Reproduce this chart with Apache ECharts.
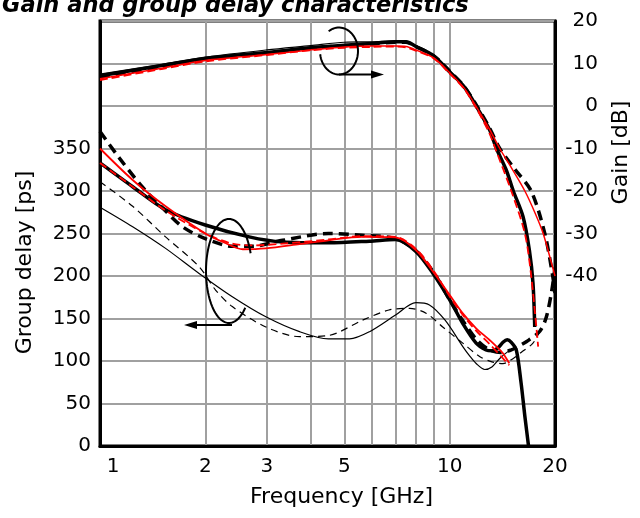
<!DOCTYPE html>
<html><head><meta charset="utf-8">
<script src="https://cdn.jsdelivr.net/npm/echarts@6/dist/echarts.min.js"></script>
<style>html,body{margin:0;padding:0;background:#fff}#c{width:640px;height:518px}</style>
</head><body><div id="c"></div>
<script>
const FONT = 'DejaVu Sans';
// axis ticks / labels
const xTickLabels = [1, 2, 3, 5, 10, 20];
const xGridValues = [1, 2, 3, 4, 5, 6, 7, 8, 9, 10, 20];
const gdLabelMax = 350;      // highest labelled group-delay tick
const gainLabelMin = -40;    // lowest labelled gain tick

// ---- Gain curves (dB) ----
const gainThickF = [1, 1.5, 2, 3, 4, 5, 6, 7, 7.5, 8, 9, 10, 11, 12, 13, 13.6, 14.5, 15.2, 16.2, 16.9, 17.3, 17.5];
const gainThickV = [7.1, 9.5, 11.2, 12.6, 13.7, 14.3, 14.7, 15.1, 15.1, 14.0, 11.8, 8.0, 4.5, -0.5, -5.6, -10, -15, -20, -26, -34, -41.7, -52];
const gainThickDashF = [1, 1.5, 2, 3, 4, 5, 6, 7, 7.5, 8, 9, 10, 11, 12, 13, 13.9, 15.4, 17.1, 18.7, 19.7, 20];
const gainThickDashV = [6.8, 9.2, 11.0, 12.5, 13.6, 14.2, 14.6, 15.0, 15.0, 14.0, 11.8, 8.2, 4.6, -0.2, -5.2, -10, -15, -20, -30, -40, -44];
const gainThinF = [1, 1.5, 2, 3, 4, 5, 6, 7, 7.5, 8, 9, 10, 11, 12, 13, 13.6, 14.5, 15.2];
const gainThinV = [7.5, 9.8, 11.5, 13.2, 14.2, 15.0, 15.1, 15.3, 15.2, 14.2, 12.0, 8.3, 4.6, -0.4, -5.5, -9.8, -15, -20];
const gainRedF = [1, 1.5, 2, 3, 4, 5, 6, 7, 7.5, 8, 9, 10, 11, 12, 13, 13.9, 15.0, 16.4, 17.5, 18.5, 19.7, 20];
const gainRedV = [6.4, 8.9, 10.7, 12.1, 13.2, 13.9, 14.1, 14.1, 14.0, 13.2, 11.3, 7.8, 4.2, -0.6, -5.5, -10, -14.5, -20, -25, -30, -38, -40];
const gainRedDashF = [1, 1.5, 2, 3, 4, 5, 6, 7, 7.5, 8, 9, 10, 11, 12, 13, 13.5, 15.0, 16.4, 17.1, 17.9];
const gainRedDashV = [6.1, 8.7, 10.5, 12.0, 13.1, 13.7, 13.9, 14.0, 13.8, 13.0, 11.2, 7.6, 4.0, -1, -6.5, -10, -20, -30, -40, -56.6];

// ---- Group delay curves (ps) ----
const gdThickF = [1, 1.24, 1.54, 2.0, 2.67, 3.33, 4.5, 5.9, 7.0, 8.0, 8.96, 10, 10.9, 11.9, 12.7, 13.2, 13.7, 14.2, 14.6, 15.0, 15.5, 16.0, 16.4, 16.8, 17.0];
const gdThickV = [333, 305, 278, 260, 246, 240, 239, 241, 243, 229, 203, 172, 144, 121, 113, 112, 115, 122, 125, 122, 113, 74, 35, 0, -20];
const gdThickDashF = [1, 1.13, 1.32, 1.51, 1.72, 2.0, 2.39, 2.73, 3.33, 4.5, 5.6, 7.0, 8.0, 9.0, 10, 11, 12, 13, 14, 15, 15.5, 16.6, 18.1, 18.9, 19.6, 20];
const gdThickDashV = [370, 340, 305, 280, 258, 244, 235, 235, 242, 250, 248, 244, 230, 204, 172, 145, 124, 113, 110, 113, 116, 123, 135, 152, 184, 210];
const gdRedF = [1, 1.24, 1.54, 2.0, 2.29, 2.56, 2.98, 3.72, 4.5, 5.6, 7.0, 8.0, 8.96, 10, 10.9, 11.9, 13.0, 14.2, 14.8];
const gdRedV = [350, 313, 282, 250, 238.5, 231.5, 232.5, 237.5, 242, 246, 245.5, 230.6, 205, 177.6, 156, 138.5, 124.7, 109, 97.3];
const gdRedDashF = [1, 1.24, 1.54, 2.0, 2.39, 2.73, 3.33, 4.5, 5.6, 7.0, 8.0, 9.0, 10, 11, 12, 13, 14.2, 14.8];
const gdRedDashV = [333, 305, 277, 250, 238, 236, 238, 243, 247, 246, 232, 206, 176, 152, 134, 120, 103, 95];
const gdThinF = [1, 1.24, 1.54, 1.92, 2.39, 2.98, 3.72, 4.5, 5.17, 5.9, 7.0, 8.0, 8.75, 9.7, 10.9, 11.4, 11.9, 12.6, 13.2, 13.9, 14.8, 15.5];
const gdThinV = [281, 258, 232.5, 203, 175.6, 152, 134.5, 126, 126, 134.5, 154, 168.6, 166, 148, 117, 106, 97, 90, 93, 103, 112, 115];
const gdThinDashF = [1, 1.24, 1.54, 1.92, 2.14, 2.39, 2.98, 3.72, 4.5, 5.63, 6.7, 7.68, 8.58, 9.55, 10.9, 12.2, 13.2, 14.2, 15.2, 16.0, 17.3, 18.1];
const gdThinDashV = [311, 282, 246, 211, 183.5, 164, 140, 128.6, 130, 148, 160, 162, 156, 140, 121, 105, 99, 97, 103, 110, 121, 135];

function pairs(f, v) { return f.map((x, i) => [x, v[i]]); }
function line(name, f, v, yIdx, color, width, dash, z) {
  return {
    name, type: 'line', yAxisIndex: yIdx, data: pairs(f, v),
    showSymbol: false, symbol: 'none', smooth: 0.3, clip: true, silent: true,
    animation: false, z: z,
    lineStyle: { color, width, type: dash || 'solid', cap: 'butt', join: 'round' }
  };
}

const chart = echarts.init(document.getElementById('c'), null, { renderer: 'canvas' });

const labelStyle = { fontFamily: FONT, fontSize: 20, color: '#000' };
const nameStyle = { fontFamily: FONT, fontSize: 22, color: '#000' };

const option = {
  backgroundColor: '#fff',
  animation: false,
  title: {
    text: 'Gain and group delay characteristics', left: 2, top: -5, padding: 0,
    textStyle: { fontFamily: FONT, fontStyle: 'italic', fontWeight: 'bold', fontSize: 22.5, color: '#000' }
  },
  grid: { left: 100, right: 85, top: 21, bottom: 72, containLabel: false, outerBoundsMode: 'none',
          show: true, borderColor: '#000', borderWidth: 3, backgroundColor: 'transparent' },
  xAxis: {
    type: 'log', logBase: 10, min: 1, max: 20,
    axisLine: { show: true, onZero: false, lineStyle: { color: '#000', width: 3 } },
    axisTick: { show: false, customValues: xGridValues },
    axisLabel: Object.assign({
      customValues: xTickLabels, margin: 11, showMinLabel: true, showMaxLabel: true, hideOverlap: false,
      formatter: v => (v === 1 ? '{s|1}' : String(v)),
      rich: { s: Object.assign({ padding: [0, 0, 0, 26] }, labelStyle) }
    }, labelStyle),
    splitLine: { show: true, lineStyle: { color: '#a0a0a0', width: 2 } },
    minorTick: { show: false }, minorSplitLine: { show: false },
    name: 'Frequency [GHz]', nameLocation: 'middle', nameGap: 40,
    nameTextStyle: Object.assign({ padding: [0, 0, 0, 28] }, nameStyle)
  },
  yAxis: [
    {
      type: 'value', position: 'left', min: 0, max: 500, interval: 50,
      axisLine: { show: true, onZero: false, lineStyle: { color: '#000', width: 3 } },
      axisTick: { show: false },
      axisLabel: Object.assign({ margin: 9, showMinLabel: true, showMaxLabel: true,
        formatter: v => (v <= gdLabelMax ? String(v) : '') }, labelStyle),
      splitLine: { show: true, lineStyle: { color: '#a0a0a0', width: 2 } },
      name: 'Group delay [ps]', nameLocation: 'middle', nameRotate: 90, nameGap: 64,
      nameTextStyle: Object.assign({ padding: [0, 58, 0, 0] }, nameStyle)
    },
    {
      type: 'value', position: 'right', min: -80, max: 20, interval: 10,
      axisLine: { show: true, onZero: false, lineStyle: { color: '#000', width: 3 } },
      axisTick: { show: false },
      axisLabel: Object.assign({ margin: 43, align: 'right', showMinLabel: true, showMaxLabel: true,
        formatter: v => (v >= gainLabelMin ? String(v) : '') }, labelStyle),
      splitLine: { show: false },
      name: 'Gain [dB]', nameLocation: 'middle', nameRotate: 90, nameGap: 55,
      nameTextStyle: Object.assign({ padding: [0, 0, 0, 162] }, nameStyle)
    }
  ],
  series: [
    line('gd thin', gdThinF, gdThinV, 0, '#000', 1.2, null, 2),
    line('gd thin dash', gdThinDashF, gdThinDashV, 0, '#000', 1.2, [7, 5], 2),
    line('gd thick', gdThickF, gdThickV, 0, '#000', 3.5, null, 3),
    line('gd thick dash', gdThickDashF, gdThickDashV, 0, '#000', 3.5, [10, 6], 3),
    line('gd red', gdRedF, gdRedV, 0, '#ff0000', 1.8, null, 4),
    line('gd red dash', gdRedDashF, gdRedDashV, 0, '#ff0000', 1.8, [8, 4], 4),
    line('gain thick', gainThickF, gainThickV, 1, '#000', 3.5, null, 3),
    line('gain thick dash', gainThickDashF, gainThickDashV, 1, '#000', 3.5, [10, 6], 3),
    line('gain thin', gainThinF, gainThinV, 1, '#000', 1.2, null, 3),
    line('gain red', gainRedF, gainRedV, 1, '#ff0000', 1.5, null, 4),
    line('gain red dash', gainRedDashF, gainRedDashV, 1, '#ff0000', 1.8, [8, 4], 4)
  ]
};
chart.setOption(option);

// ---- annotation loops with arrows (decorative) ----
function arcPts(cx, cy, rx, ry, t0, t1, n) {
  const pts = [];
  for (let i = 0; i <= n; i++) {
    const t = (t0 + (t1 - t0) * i / n) * Math.PI / 180;
    pts.push([cx + rx * Math.cos(t), cy + ry * Math.sin(t)]);
  }
  return pts;
}
const annStyle = { stroke: '#000', lineWidth: 2, fill: null };
chart.setOption({
  graphic: [
    { type: 'polyline', shape: { points: arcPts(339, 51, 19, 23.5, -123, 172, 60) }, style: annStyle, z: 100, silent: true },
    { type: 'line', shape: { x1: 339, y1: 74.5, x2: 374, y2: 74.5 }, style: annStyle, z: 100, silent: true },
    { type: 'polygon', shape: { points: [[384, 74.5], [371, 70.5], [371, 78.5]] }, style: { fill: '#000' }, z: 100, silent: true },
    { type: 'polyline', shape: { points: arcPts(229, 271, 23, 52, -20, -315, 80) }, style: annStyle, z: 100, silent: true },
    { type: 'line', shape: { x1: 232, y1: 325, x2: 194, y2: 325 }, style: annStyle, z: 100, silent: true },
    { type: 'polygon', shape: { points: [[184, 325], [197, 321], [197, 329]] }, style: { fill: '#000' }, z: 100, silent: true }
  ]
});
</script></body></html>
